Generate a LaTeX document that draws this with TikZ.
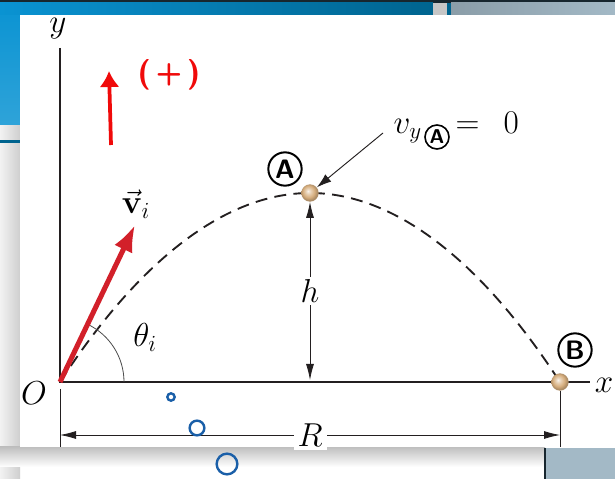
\documentclass[tikz,border=0pt]{standalone}
\usetikzlibrary{arrows.meta}
\definecolor{barblue}{HTML}{0A93D2}
\definecolor{bardeep}{HTML}{00648F}
\definecolor{barpale}{HTML}{A3B9C6}
\definecolor{topdark}{HTML}{17262E}
\definecolor{axisdark}{HTML}{231F20}
\definecolor{vecred}{HTML}{D2202A}
\definecolor{annred}{HTML}{F00A0A}
\definecolor{balltan}{HTML}{D6AE7E}
\definecolor{markblue}{HTML}{1A5FA8}
\pgfdeclareradialshading{tanball}{\pgfpoint{-6bp}{6bp}}{color(0bp)=(balltan!15!white); color(7bp)=(balltan!55!white); color(17bp)=(balltan); color(24bp)=(balltan!80!black); color(50bp)=(balltan!80!black)}

\begin{document}
\begin{tikzpicture}[x=0.75pt,y=0.75pt,>={Latex},
  lbl/.style={font=\fontsize{24}{28}\selectfont},
  ptlabel/.style={circle,draw,line width=1.5pt,inner sep=0pt,minimum size=25pt,font=\sffamily\bfseries\fontsize{20}{20}\selectfont},
  subcirc/.style={circle,draw,line width=1.2pt,inner sep=0pt,minimum size=18pt,font=\sffamily\bfseries\fontsize{15}{15}\selectfont},
  ball/.style={circle,inner sep=0pt,minimum size=13pt,shading=tanball},
  axisline/.style={draw=axisdark,line width=2.2pt},
  traj/.style={draw=axisdark,line width=1.4pt,dash pattern=on 9pt off 5.5pt},
  dimline/.style={draw=axisdark,line width=0.6pt,{Latex[length=12pt,width=6pt]}-{Latex[length=12pt,width=6pt]}},
  ptr/.style={draw=axisdark,line width=0.7pt,-{Latex[length=11pt,width=7pt]}},
  vecline/.style={draw=vecred,line width=3.8pt,-{Latex[length=20pt,width=15pt]}},
  hand/.style={draw=annred,line width=2.8pt,-{Latex[length=12pt,width=15pt]}},
  blob/.style={draw=markblue,line width=1.8pt}]
  \useasboundingbox (0,0) rectangle (615,479);
  % slide background
  \fill[white] (0,0) rectangle (615,479);
  \shade[left color=gray!10,right color=gray!38] (0,0) rectangle (20,464);
  \shade[top color=barblue,bottom color=barblue!85!white] (0,354) rectangle (20,476);
  \fill[bardeep] (0,336) rectangle (20,338.5);
  \shade[top color=gray!50,bottom color=white] (0,12) rectangle (545,32);
  \fill[white] (20,32) rectangle (615,464);
  \fill[topdark] (0,476) rectangle (615,479);
  \shade[left color=barblue,right color=bardeep] (0,464) rectangle (433,476);
  \fill[gray!45] (433,464) rectangle (447,476); \fill[bardeep] (447,464) rectangle (451,476);
  \shade[left color=barpale!85!black,right color=barpale] (451,464) rectangle (615,476);
  \fill[barpale] (545,0) rectangle (615,31); \draw[topdark,line width=1pt] (545,0)--(545,31);
  % axes
  \coordinate (O) at (60,97); \coordinate (ytop) at (60,431); \coordinate (xend) at (590,97);
  \coordinate (pk) at (310,286); \coordinate (land) at (560,97);
  \draw[traj] (O) parabola bend (pk) (land);
  \draw[axisline] (ytop)--(O)--(xend);
  \node[lbl] (ylab) at (58,450) {$y$}; \node[lbl] (xlab) at (604,94) {$x$};
  \node[lbl] (olab) at (34,86) {$O$};
  % points A and B
  \node[ball] (A) at (pk) {}; \node[ball] (B) at (land) {};
  \node[ptlabel] (Alab) at (285,310) {A}; \node[ptlabel] (Blab) at (575,129) {B};
  % v_y = 0 at the top
  \node[lbl,anchor=base west] (vy) at (389,345) {$v_y$};
  \node[subcirc] (vyA) at (437,342) {A};
  \node[lbl,anchor=base west] (vyeq) at (451,345) {$=\;\,0$};
  \coordinate (vyfoot) at (383,346);
  \draw[ptr] (vyfoot)--(A);
  % height h
  \coordinate (hfoot) at (310,99);
  \draw[dimline] (A.south)--(hfoot);
  \node[lbl,fill=white,inner sep=2pt] (hlab) at (310,188) {$h$};
  % range R
  \coordinate (Rl0) at (60,90); \coordinate (Rl1) at (60,32); \coordinate (Rr1) at (560,32);
  \draw[axisdark,line width=0.6pt] (Rl0)--(Rl1); \draw[axisdark,line width=0.6pt] (B.south)--(Rr1);
  \coordinate (Rl) at (60,44); \coordinate (Rr) at (560,44);
  \draw[dimline] (Rl)--(Rr);
  \node[lbl,fill=white,inner sep=3pt] (Rlab) at (310,44) {$R$};
  % initial velocity and angle
  \coordinate (vtip) at (135,254); \coordinate (arc0) at (124,97);
  \draw[gray!60!black,line width=0.6pt] (arc0) arc[start angle=0,end angle=64.5,radius=64];
  \draw[vecline] (O)--(vtip);
  \node[lbl] (vlab) at (136,275) {$\vec{\mathbf{v}}_i$};
  \node[lbl] (thlab) at (145,142) {$\theta_i$};
  % hand notes
  \coordinate (up0) at (111,334); \coordinate (up1) at (109,408);
  \draw[hand] (up0)--(up1);
  \node[text=annred,font=\sffamily\bfseries\fontsize{23}{24}\selectfont] (plus) at (169,404) {(\,+\,)};
  \node[blob,circle,inner sep=0pt,minimum size=5.5pt] (c1) at (171,82) {};
  \node[blob,circle,inner sep=0pt,minimum size=11pt] (c2) at (197,51) {};
  \node[blob,circle,inner sep=0pt,minimum size=15.5pt] (c3) at (227,15) {};
\end{tikzpicture}
\end{document}
